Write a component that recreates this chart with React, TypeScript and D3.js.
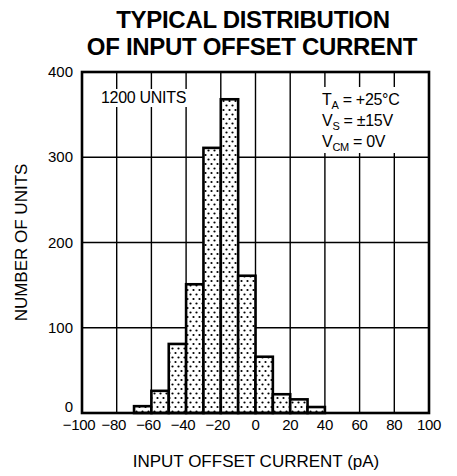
import React from 'react';
import * as d3 from 'd3';

// histogram bins (pA), lower edge of each 10 pA bin
const binStarts = [-70, -60, -50, -40, -30, -20, -10, 0, 10, 20, 30];
const binCounts = [8, 26, 81, 151, 311, 368, 161, 66, 22, 16, 7];
const binWidth = 10;

const xTicks = [-100, -80, -60, -40, -20, 0, 20, 40, 60, 80, 100];
const yTicks = [0, 100, 200, 300, 400];

const FONT = '"Liberation Sans", Arial, Helvetica, sans-serif';

const App = () => {
  const width = 457;
  const height = 476;
  const margin = { top: 72, right: 28, bottom: 63, left: 82 };

  const x = d3.scaleLinear().domain([-100, 100]).range([margin.left, width - margin.right]);
  const y = d3.scaleLinear().domain([0, 400]).range([height - margin.bottom, margin.top]);

  const fmt = (v: number) => (v < 0 ? `\u2212${Math.abs(v)}` : `${v}`);

  return (
    <svg
      width={width}
      height={height}
      style={{ position: 'absolute', left: 0, top: 0, background: '#fff' }}
      fontFamily={FONT}
    >
      <defs>
        <pattern id="dots" width="6" height="9" patternUnits="userSpaceOnUse">
          <rect width="6" height="9" fill="#fff" />
          <circle cx="1.5" cy="2" r="1.1" fill="#000" />
          <circle cx="4.5" cy="6.5" r="1.1" fill="#000" />
        </pattern>
      </defs>

      {/* title */}
      <text x={253} y={28} textAnchor="middle" fontSize={24} fontWeight="bold" letterSpacing={-0.3}>
        TYPICAL DISTRIBUTION
      </text>
      <text x={252} y={55} textAnchor="middle" fontSize={24} fontWeight="bold" letterSpacing={-0.3}>
        OF INPUT OFFSET CURRENT
      </text>

      {/* grid */}
      {xTicks.slice(1, -1).map((t) => (
        <line key={`gx${t}`} x1={x(t)} x2={x(t)} y1={y(400)} y2={y(0)} stroke="#000" strokeWidth={1.4} />
      ))}
      {yTicks.slice(1, -1).map((t) => (
        <line key={`gy${t}`} x1={x(-100)} x2={x(100)} y1={y(t)} y2={y(t)} stroke="#000" strokeWidth={1.6} />
      ))}

      {/* label backgrounds that mask grid */}
      <rect x={99} y={89} width={102} height={18} fill="#fff" />
      <rect x={318} y={87} width={108} height={66} fill="#fff" />

      {/* bars */}
      {binStarts.map((b, i) => (
        <rect
          key={`bar${b}`}
          x={x(b)}
          y={y(binCounts[i])}
          width={x(b + binWidth) - x(b)}
          height={y(0) - y(binCounts[i])}
          fill="url(#dots)"
          stroke="#000"
          strokeWidth={2.6}
        />
      ))}

      {/* frame */}
      <rect
        x={x(-100)}
        y={y(400)}
        width={x(100) - x(-100)}
        height={y(0) - y(400)}
        fill="none"
        stroke="#000"
        strokeWidth={2.6}
      />

      {/* y tick labels */}
      {yTicks.map((t) => (
        <text key={`yl${t}`} x={x(-100) - 9} y={y(t) + (t === 0 ? -1 : 5)} textAnchor="end" fontSize={15}>
          {t}
        </text>
      ))}

      {/* x tick labels */}
      {xTicks.map((t) => (
        <text
          key={`xl${t}`}
          x={x(t) + (t < 0 ? -3 : 0)}
          y={y(0) + 17}
          textAnchor="middle"
          fontSize={15}
          letterSpacing={-0.3}
        >
          {fmt(t)}
        </text>
      ))}

      {/* axis titles */}
      <text x={256} y={467} textAnchor="middle" fontSize={17}>
        INPUT OFFSET CURRENT (pA)
      </text>
      <text
        transform={`translate(27, ${(y(0) + y(400)) / 2}) rotate(-90)`}
        textAnchor="middle"
        fontSize={17}
      >
        NUMBER OF UNITS
      </text>

      {/* annotations */}
      <text x={101} y={103} fontSize={16} letterSpacing={-0.3}>1200 UNITS</text>
      <text x={322} y={105} fontSize={16} letterSpacing={-0.3}>
        T<tspan fontSize={11} dy={4}>A</tspan>
        <tspan dy={-4}> = +25°C</tspan>
      </text>
      <text x={322} y={126} fontSize={16} letterSpacing={-0.3}>
        V<tspan fontSize={11} dy={4}>S</tspan>
        <tspan dy={-4}> = ±15V</tspan>
      </text>
      <text x={322} y={147} fontSize={16} letterSpacing={-0.3}>
        V<tspan fontSize={11} dy={4}>CM</tspan>
        <tspan dy={-4}> = 0V</tspan>
      </text>
    </svg>
  );
};

export default App;
